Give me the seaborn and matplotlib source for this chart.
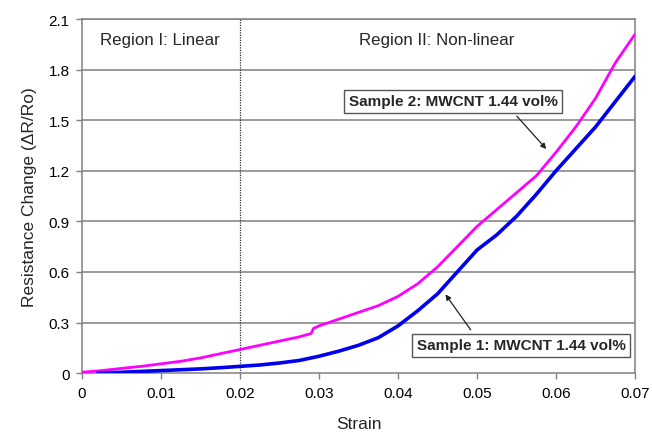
import matplotlib
matplotlib.use("Agg")
import matplotlib.pyplot as plt
import seaborn as sns
import pandas as pd

# Sample 2 (magenta)
strain_s2 = [0, 0.0025, 0.005, 0.0075, 0.01, 0.0125, 0.015, 0.0175, 0.02, 0.0225,
             0.025, 0.0275, 0.029, 0.0293, 0.03, 0.0325, 0.035, 0.0375, 0.04, 0.0425,
             0.045, 0.0475, 0.05, 0.0525, 0.055, 0.0575, 0.06, 0.0625, 0.065, 0.0675, 0.07]
resist_s2 = [0.005, 0.015, 0.028, 0.04, 0.055, 0.07, 0.09, 0.115, 0.14, 0.165,
             0.19, 0.215, 0.235, 0.265, 0.28, 0.32, 0.36, 0.40, 0.455, 0.53,
             0.63, 0.75, 0.87, 0.97, 1.07, 1.17, 1.31, 1.46, 1.63, 1.84, 2.01]

# Sample 1 (blue)
strain_s1 = [0.002, 0.005, 0.0075, 0.01, 0.0125, 0.015, 0.0175, 0.02, 0.0225, 0.025,
             0.0275, 0.03, 0.0325, 0.035, 0.0375, 0.04, 0.0425, 0.045, 0.0475, 0.05,
             0.0525, 0.055, 0.0575, 0.06, 0.0625, 0.065, 0.0675, 0.07]
resist_s1 = [0.0, 0.005, 0.01, 0.015, 0.02, 0.025, 0.032, 0.04, 0.048, 0.06,
             0.075, 0.10, 0.13, 0.165, 0.21, 0.28, 0.37, 0.47, 0.60, 0.73,
             0.82, 0.93, 1.06, 1.20, 1.33, 1.46, 1.61, 1.76]

x_ticks = [0, 0.01, 0.02, 0.03, 0.04, 0.05, 0.06, 0.07]
x_labels = ["0", "0.01", "0.02", "0.03", "0.04", "0.05", "0.06", "0.07"]
y_ticks = [0, 0.3, 0.6, 0.9, 1.2, 1.5, 1.8, 2.1]
y_labels = ["0", "0.3", "0.6", "0.9", "1.2", "1.5", "1.8", "2.1"]

sns.set_style("white")
plt.rcParams['font.family'] = ['Liberation Sans', 'DejaVu Sans']

fig = plt.figure(figsize=(6.52, 4.35), dpi=100)
ax = fig.add_axes([0.1258, 0.140, 0.974 - 0.1258, 0.954 - 0.140])

df2 = pd.DataFrame({"strain": strain_s2, "r": resist_s2})
df1 = pd.DataFrame({"strain": strain_s1, "r": resist_s1})

for y in y_ticks[1:]:
    ax.axhline(y, color="#808080", lw=1.1, zorder=1)

sns.lineplot(data=df2, x="strain", y="r", color="#FF00FF", lw=2.0, ax=ax, sort=False, zorder=3)
sns.lineplot(data=df1, x="strain", y="r", color="#0000EE", lw=2.6, ax=ax, sort=False, zorder=3)

ax.axvline(0.02, color="#333333", lw=0.9, ls=(0, (1, 1)), zorder=2)

ax.set_xlim(0, 0.07)
ax.set_ylim(0, 2.1)
ax.set_xticks(x_ticks)
ax.set_xticklabels(x_labels)
ax.set_yticks(y_ticks)
ax.set_yticklabels(y_labels)
ax.tick_params(axis="both", labelsize=11, colors="#000000", length=4, width=1,
               direction="out", bottom=True, left=True, pad=5)
ax.tick_params(axis="both", color="#808080")
for sp in ax.spines.values():
    sp.set_color("#808080")
    sp.set_linewidth(1.1)

ax.set_xlabel("Strain", fontsize=12.5, labelpad=12)
ax.set_ylabel("Resistance Change (\u0394R/Ro)", fontsize=12.5, labelpad=8)

ax.text(0.00225, 1.98, "Region I: Linear", fontsize=12.2, va="center", ha="left")
ax.text(0.0351, 1.98, "Region II: Non-linear", fontsize=12.2, va="center", ha="left")

box = dict(boxstyle="square,pad=0.3", fc="white", ec="#555555", lw=1)
ax.text(0.04696, 1.613, "Sample 2: MWCNT 1.44 vol%", fontsize=11, fontweight="bold",
        ha="center", va="center", bbox=box, zorder=5)
ax.annotate("", xy=(0.0590, 1.317), xytext=(0.0548, 1.536),
            arrowprops=dict(arrowstyle="-|>", color="#222222", lw=0.9, mutation_scale=8), zorder=5)

ax.text(0.0556, 0.166, "Sample 1: MWCNT 1.44 vol%", fontsize=11, fontweight="bold",
        ha="center", va="center", bbox=box, zorder=5)
ax.annotate("", xy=(0.0458, 0.48), xytext=(0.0494, 0.243),
            arrowprops=dict(arrowstyle="-|>", color="#222222", lw=0.9, mutation_scale=8), zorder=5)

fig.savefig("out.png", dpi=100)
